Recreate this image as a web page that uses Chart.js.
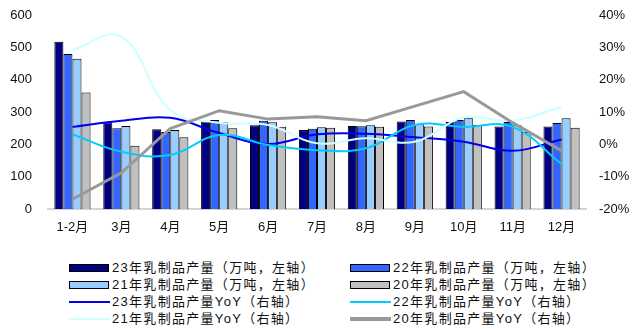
<!DOCTYPE html>
<html>
<head>
<meta charset="utf-8">
<script src="https://cdn.jsdelivr.net/npm/chart.js@4/dist/chart.umd.min.js"></script>
<style>
  html, body { margin: 0; padding: 0; background: #fff; }
  #wrap { position: relative; width: 633px; height: 329px; overflow: hidden; }
  #plot { position: absolute; left: 0; top: 0; width: 633px; height: 245px; }
  .lg { position: absolute; height: 16px; line-height: 16px; font-size: 13px; color: #111;
        font-family: "Liberation Sans", "Noto Sans CJK SC", sans-serif; letter-spacing: 1.3px; white-space: nowrap; }
  .sw { position: absolute; }
</style>
</head>
<body>
<div id="wrap">
  <div id="plot"><canvas id="c"></canvas></div>
  <div id="legend"></div>
</div>
<script>
// Months on the category axis
const months = ['1-2月', '3月', '4月', '5月', '6月', '7月', '8月', '9月', '10月', '11月', '12月'];

// Dairy output, 10k tonnes (left axis)
const out23 = [517, 268, 247, 270, 259, 244, 257, 271, 269, 255, 255];
const out22 = [479, 250, 238, 275, 273, 248, 256, 275, 275, 269, 266];
const out21 = [465, 257, 244, 268, 268, 253, 259, 262, 282, 259, 281];
const out20 = [360, 196, 222, 250, 254, 251, 254, 255, 260, 238, 251];

// Year-on-year change, % (right axis)
const yoy23 = [5.4, 7.3, 8.2, 3.5, 0.1, 3.1, 3.3, 2.2, 0.8, -2.0, 1.5];
const yoy22 = [3.1, -2.3, -3.3, 2.9, -0.2, -1.8, -1.2, 6.0, 5.4, 5.4, -6.1];
const yoy21 = [29.2, 33.3, 10.6, 6.7, 6.0, 0.3, 1.9, 0.8, 8.3, 7.3, 11.6];
const yoy20 = [-17.0, -8.8, 4.9, 10.4, 7.8, 8.5, 7.3, 11.8, 16.3, 6.7, -2.0];

// Axis ticks
const leftTicks = [0, 100, 200, 300, 400, 500, 600];
const rightTicks = [-20, -10, 0, 10, 20, 30, 40];

// Series labels
const names = {
  out23: '23年乳制品产量（万吨，左轴）',
  out22: '22年乳制品产量（万吨，左轴）',
  out21: '21年乳制品产量（万吨，左轴）',
  out20: '20年乳制品产量（万吨，左轴）',
  yoy23: '23年乳制品产量YoY（右轴）',
  yoy22: '22年乳制品产量YoY（右轴）',
  yoy21: '21年乳制品产量YoY（右轴）',
  yoy20: '20年乳制品产量YoY（右轴）'
};

const colors = {
  out23: '#000080', out22: '#3366ff', out21: '#99ccff', out20: '#c0c0c0',
  yoy23: '#0000ee', yoy22: '#00ccff', yoy21: '#ccffff', yoy20: '#999999'
};

const tickFont = { family: '"Liberation Sans", "Noto Sans CJK SC", sans-serif', size: 13 };

function bar(key, data) {
  return { type: 'bar', label: names[key], data, yAxisID: 'y', order: 2,
           backgroundColor: colors[key], borderColor: '#000', borderWidth: 1,
           barPercentage: 1.0, categoryPercentage: 0.74 };
}
function line(key, data, width, tension) {
  return { type: 'line', label: names[key], data, yAxisID: 'y1', order: 1,
           borderColor: colors[key], backgroundColor: colors[key], borderWidth: width,
           tension, pointRadius: 0, fill: false };
}

// Fixed axis width; top/bottom spacing comes from the layout padding instead
function fitVertical(width) {
  return s => { s.width = width; s.paddingTop = 0; s.paddingBottom = 0; };
}

new Chart(document.getElementById('c'), {
  data: {
    labels: months,
    datasets: [
      bar('out23', out23), bar('out22', out22), bar('out21', out21), bar('out20', out20),
      line('yoy20', yoy20, 3, 0),
      line('yoy21', yoy21, 2, 0.4),
      line('yoy22', yoy22, 2, 0.4),
      line('yoy23', yoy23, 2, 0.4)
    ]
  },
  options: {
    responsive: true,
    maintainAspectRatio: false,
    animation: false,
    layout: { padding: { top: 15, left: 0, right: 0, bottom: 0 } },
    plugins: { legend: { display: false }, tooltip: { enabled: false } },
    scales: {
      x: {
        grid: { display: false, drawTicks: false },
        border: { display: true, color: '#d4d4d4', width: 2 },
        ticks: { font: tickFont, color: '#111', padding: 11, maxRotation: 0 },
        afterFit: s => { s.height = 36; }
      },
      y: {
        position: 'left', min: 0, max: 600,
        afterBuildTicks: s => { s.ticks = leftTicks.map(v => ({ value: v })); },
        grid: { display: false, drawTicks: false },
        border: { display: false },
        ticks: { font: tickFont, color: '#111', padding: 16 },
        afterFit: fitVertical(48)
      },
      y1: {
        position: 'right', min: -20, max: 40,
        afterBuildTicks: s => { s.ticks = rightTicks.map(v => ({ value: v })); },
        grid: { display: false, drawTicks: false },
        border: { display: false },
        ticks: { font: tickFont, color: '#111', padding: 13, callback: v => v + '%' },
        afterFit: fitVertical(47)
      }
    }
  }
});

// Two-column legend below the plot
const legendItems = [
  { key: 'out23', kind: 'box' }, { key: 'out22', kind: 'box' },
  { key: 'out21', kind: 'box' }, { key: 'out20', kind: 'box' },
  { key: 'yoy23', kind: 'line', w: 2 }, { key: 'yoy22', kind: 'line', w: 2 },
  { key: 'yoy21', kind: 'line', w: 2 }, { key: 'yoy20', kind: 'line', w: 4 }
];
const colX = [69, 350];
const rowY = [268, 285, 302, 319];
const lg = document.getElementById('legend');
legendItems.forEach((it, i) => {
  const cx = colX[i % 2], cy = rowY[Math.floor(i / 2)];
  const sw = document.createElement('div');
  sw.className = 'sw';
  if (it.kind === 'box') {
    Object.assign(sw.style, { left: cx + 'px', top: (cy - 4) + 'px', width: '38px', height: '6px',
      background: colors[it.key], border: '1.5px solid #000' });
  } else {
    Object.assign(sw.style, { left: cx + 'px', top: (cy - it.w / 2) + 'px', width: '41px',
      height: it.w + 'px', background: colors[it.key] });
  }
  lg.appendChild(sw);
  const t = document.createElement('div');
  t.className = 'lg';
  t.textContent = names[it.key];
  t.style.left = (cx + 43) + 'px';
  t.style.top = (cy - 8) + 'px';
  lg.appendChild(t);
});
</script>
</body>
</html>
